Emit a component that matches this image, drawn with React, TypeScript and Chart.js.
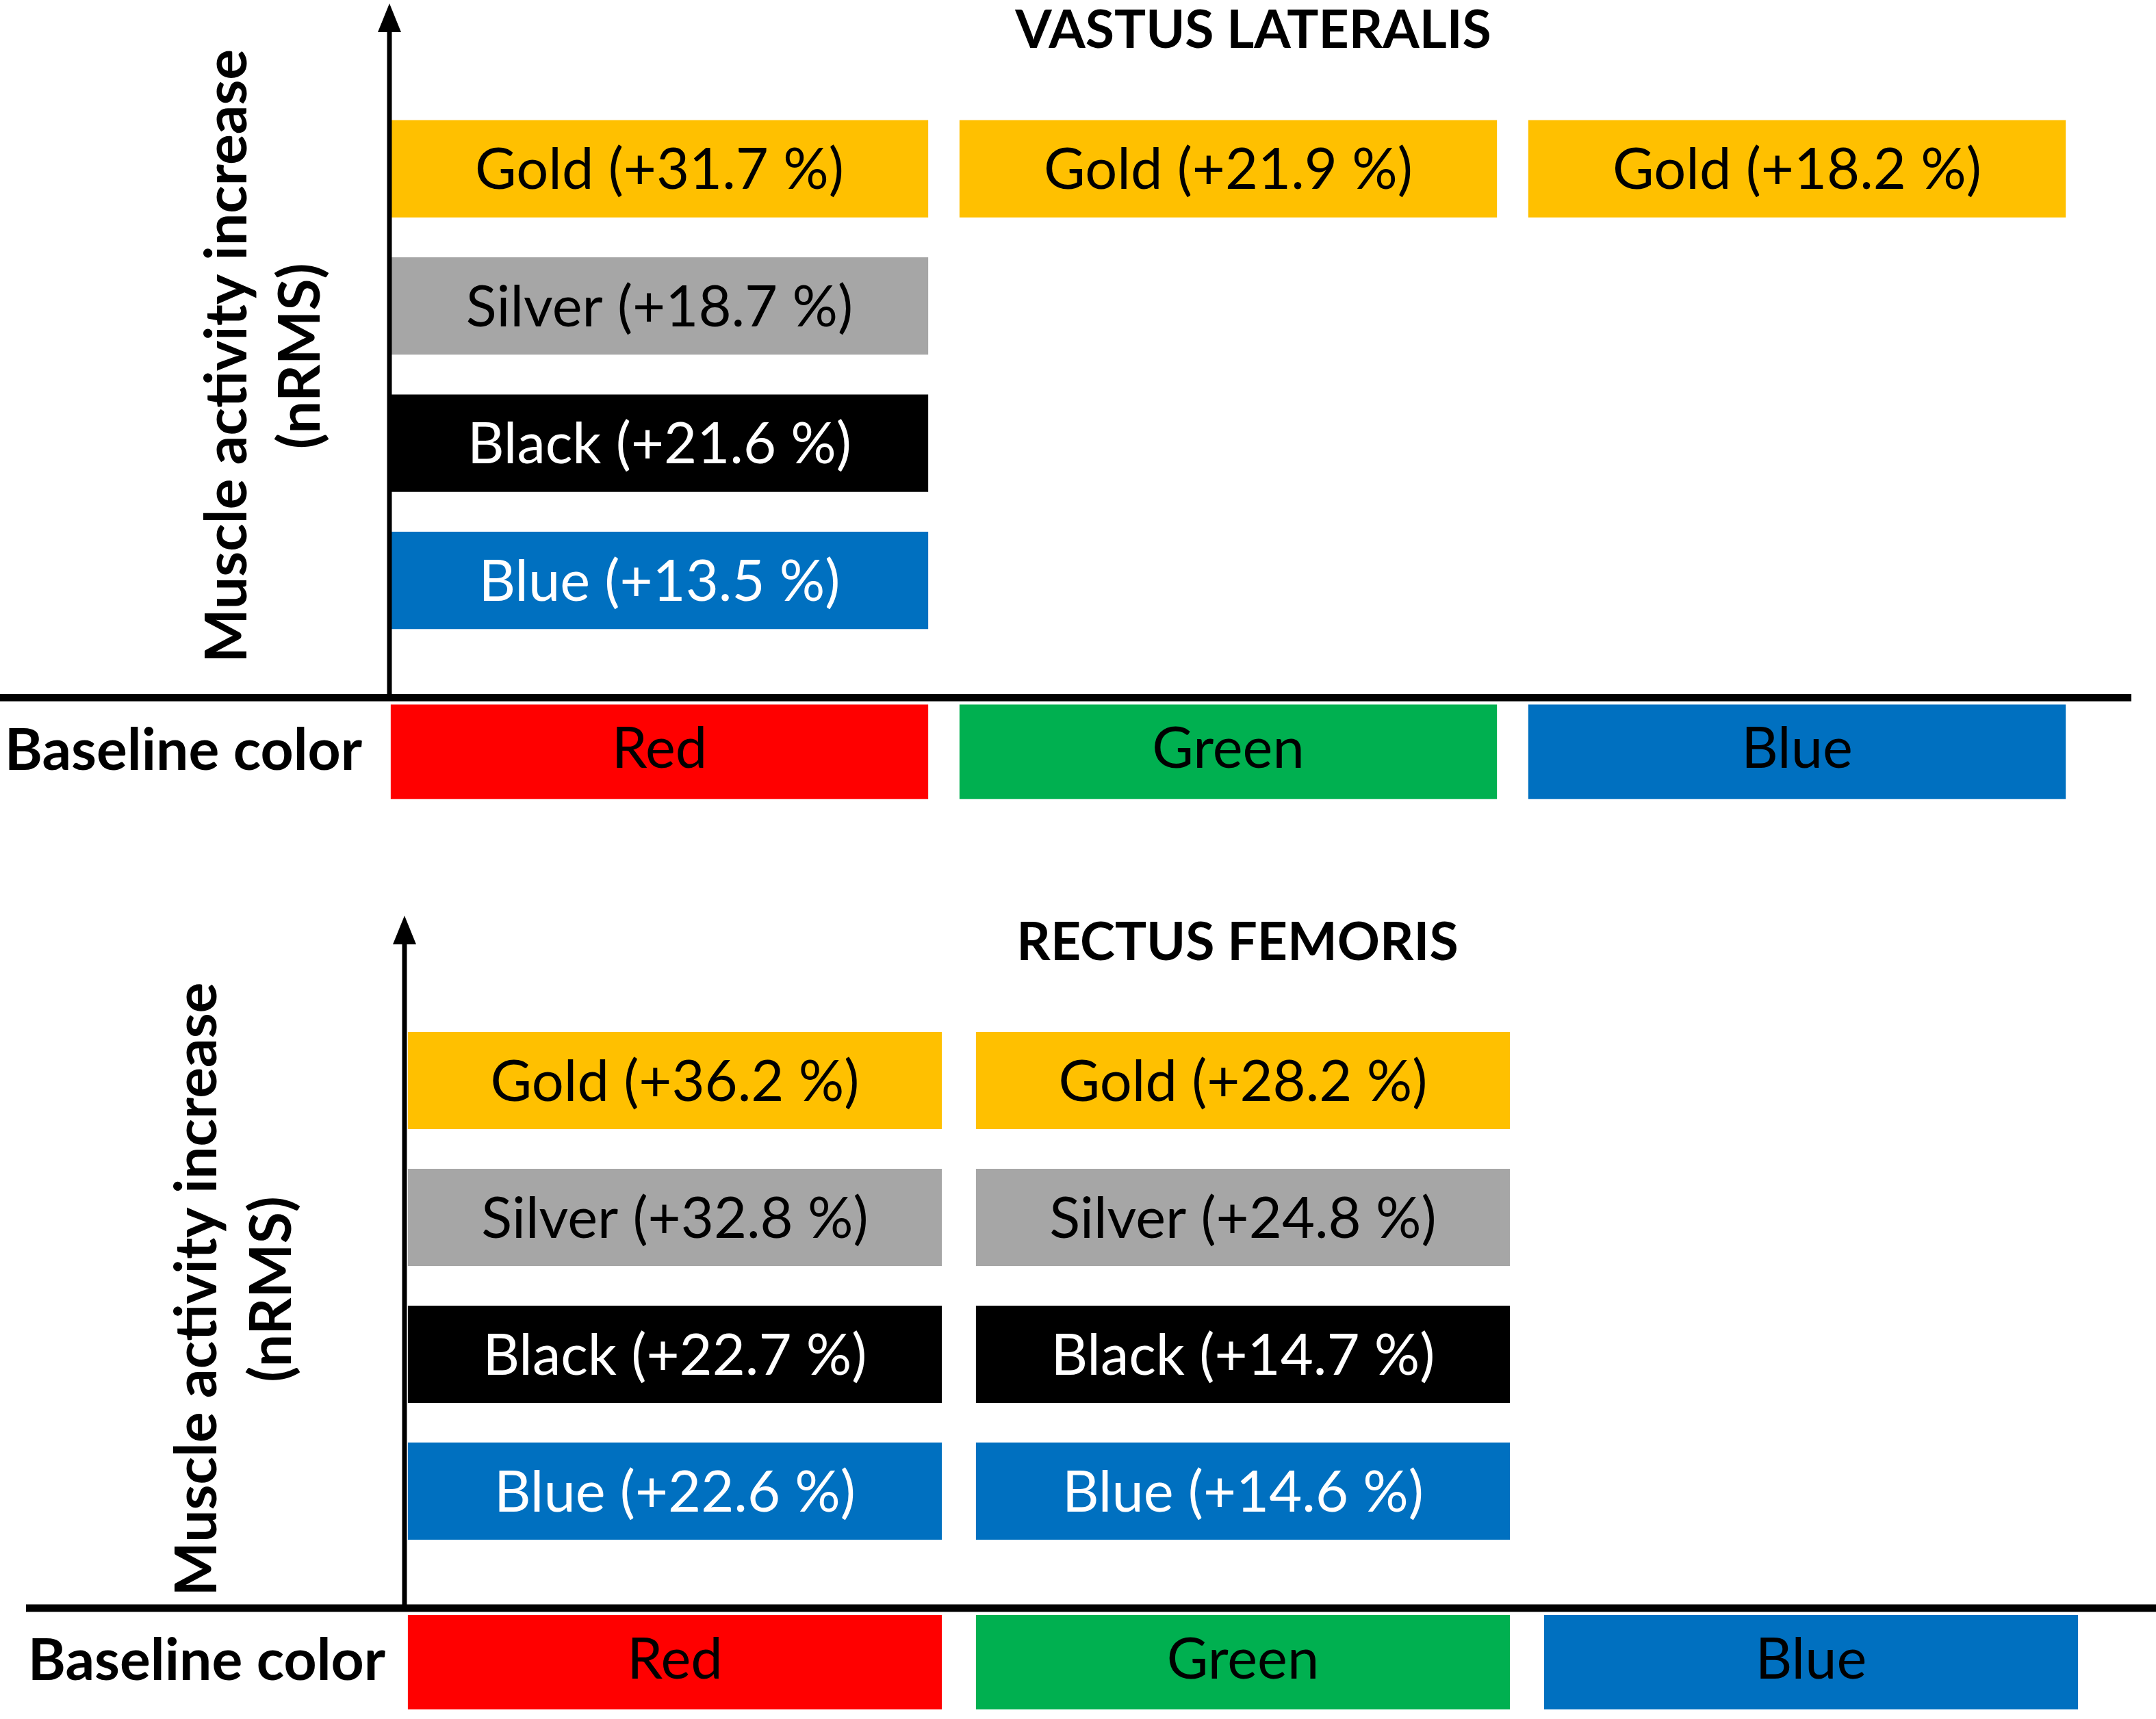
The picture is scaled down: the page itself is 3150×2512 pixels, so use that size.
import { useEffect, useRef } from 'react';
import { Chart, registerables } from 'chart.js';
Chart.register(...registerables);

// categories: the baseline colour shown before the change
const baselineColors = ['Red', 'Green', 'Blue'];
// goggle colours, from the lowest row to the top row
const goggleColors = ['Blue', 'Black', 'Silver', 'Gold'];

// Vastus lateralis, % increase of nRMS per baseline colour (null = not shown)
const vlBlue = [13.5, null, null];
const vlBlack = [21.6, null, null];
const vlSilver = [18.7, null, null];
const vlGold = [31.7, 21.9, 18.2];

// Rectus femoris
const rfBlue = [22.6, 14.6, null];
const rfBlack = [22.7, 14.7, null];
const rfSilver = [32.8, 24.8, null];
const rfGold = [36.2, 28.2, null];

const yAxisTitle = ['Muscle activity increase', '(nRMS)'];
const rowTitle = 'Baseline color';

const FONT = 'Lato, "Open Sans", sans-serif';

const fills: any = {
    Gold: '#FFC000',
    Silver: '#A6A6A6',
    Black: '#000000',
    Blue: '#0070C0',
    Red: '#FF0000',
    Green: '#00B050'
};
const inks: any = { Gold: '#000', Silver: '#000', Black: '#fff', Blue: '#fff' };

const decor = {
    id: 'decor',
    afterDatasetsDraw(chart: any, _args: any, opts: any) {
        const { ctx, chartArea, scales: { y } } = chart;
        const y0 = y.getPixelForValue(0);
        ctx.save();
        ctx.fillStyle = '#000';

        // horizontal base line
        ctx.fillRect(opts.lineFrom, y0 - 5.5, opts.lineTo - opts.lineFrom, 11);

        // vertical arrow
        const ax = chartArea.left + opts.arrowOffset;
        const tip = y.getPixelForValue(5.06);
        ctx.fillRect(ax - 3.5, tip + 30, 7, y0 - tip - 30);
        ctx.beginPath();
        ctx.moveTo(ax, tip);
        ctx.lineTo(ax - 17, tip + 42);
        ctx.lineTo(ax + 17, tip + 42);
        ctx.closePath();
        ctx.fill();

        // bar texts
        ctx.textAlign = 'center';
        ctx.textBaseline = 'middle';
        ctx.font = `83px ${FONT}`;
        chart.data.datasets.forEach((ds: any, i: number) => {
            const meta = chart.getDatasetMeta(i);
            meta.data.forEach((bar: any, j: number) => {
                if (ds.data[j] == null) return;
                const cy = (bar.y + bar.base) / 2;
                if (ds.label === rowTitle) {
                    ctx.fillStyle = '#000';
                    ctx.fillText(baselineColors[j], bar.x, cy - 3);
                } else {
                    ctx.fillStyle = inks[ds.label];
                    ctx.fillText(`${ds.label} (+${ds.values[j].toFixed(1)} %)`, bar.x, cy + 3);
                }
            });
        });

        // titles
        ctx.fillStyle = '#000';
        ctx.font = `bold 77px ${FONT}`;
        ctx.fillText(opts.title, opts.titleX, y.getPixelForValue(4.86));
        ctx.font = `bold 84px ${FONT}`;
        ctx.fillText(rowTitle, opts.rowTitleX, y.getPixelForValue(-0.39));

        const ly = y.getPixelForValue(opts.yTitleAt);
        yAxisTitle.forEach((line, k) => {
            ctx.save();
            ctx.translate(opts.yTitleX[k], ly);
            ctx.rotate(-Math.PI / 2);
            ctx.fillText(line, 0, 0);
            ctx.restore();
        });
        ctx.restore();
    }
};

const Panel = ({ title, series, layout }: any) => {
    const chartRef = useRef(null);

    useEffect(() => {
        let myChart: any = null;

        if (chartRef.current) {
            const datasets: any[] = goggleColors.map((name, slot) => ({
                label: name,
                values: series[slot],
                data: series[slot].map((v: any) => (v == null ? null : [slot + 0.5, slot + 1.21])),
                backgroundColor: fills[name],
                grouped: false,
                barPercentage: layout.barPercentage,
                categoryPercentage: 1
            }));
            datasets.push({
                label: rowTitle,
                data: baselineColors.map(() => [-0.74, -0.05]),
                backgroundColor: baselineColors.map((c) => fills[c]),
                grouped: false,
                barPercentage: layout.barPercentage,
                categoryPercentage: 1
            });

            myChart = new Chart(chartRef.current, {
                type: 'bar',
                data: { labels: baselineColors, datasets },
                options: {
                    responsive: false,
                    animation: false,
                    events: [],
                    layout: { padding: { left: layout.left, right: layout.right, top: 0, bottom: 0 } },
                    scales: {
                        x: { display: false },
                        y: { display: false, min: layout.yMin, max: layout.yMax }
                    },
                    plugins: {
                        legend: { display: false },
                        tooltip: { enabled: false },
                        decor: {
                            title,
                            titleX: layout.titleX,
                            rowTitleX: layout.rowTitleX,
                            yTitleX: layout.yTitleX,
                            yTitleAt: layout.yTitleAt,
                            lineFrom: layout.lineFrom,
                            lineTo: layout.lineTo,
                            arrowOffset: layout.arrowOffset
                        }
                    }
                } as any,
                plugins: [decor]
            });
        }

        return () => {
            if (myChart) {
                myChart.destroy();
            }
        };
    }, []);

    return <canvas ref={chartRef} width={3150} height={layout.height} style={{ display: 'block' }}></canvas>;
};

const topLayout = {
    height: 1240, yMin: -1.1, yMax: 5.085, left: 548, right: 109, barPercentage: 0.945,
    titleX: 1831, rowTitleX: 268, yTitleX: [333, 440], yTitleAt: 2.49,
    lineFrom: 0, lineTo: 3114, arrowOffset: 21
};

const bottomLayout = {
    height: 1272, yMin: -0.81, yMax: 5.55, left: 571, right: 89, barPercentage: 0.94,
    titleX: 1808, rowTitleX: 302, yTitleX: [289, 398], yTitleAt: 2.33,
    lineFrom: 38, lineTo: 3150, arrowOffset: 20
};

const App = () => (
    <div style={{ position: 'absolute', left: 0, top: 0, width: 3150, height: 2512, background: '#fff' }}>
        <Panel title="VASTUS LATERALIS" series={[vlBlue, vlBlack, vlSilver, vlGold]} layout={topLayout} />
        <Panel title="RECTUS FEMORIS" series={[rfBlue, rfBlack, rfSilver, rfGold]} layout={bottomLayout} />
    </div>
);

export default App;
